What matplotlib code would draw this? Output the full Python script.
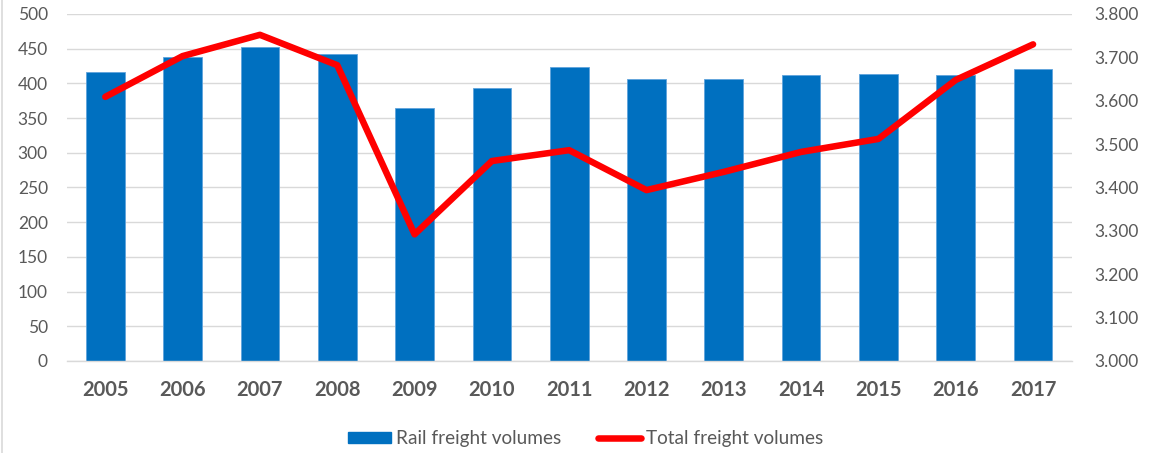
import matplotlib.pyplot as plt
from matplotlib.lines import Line2D

years = ["2005", "2006", "2007", "2008", "2009", "2010", "2011",
         "2012", "2013", "2014", "2015", "2016", "2017"]
rail_freight = [417, 438, 453, 443, 364, 394, 423, 407, 407, 412, 414, 412, 421]
total_freight = [3.609, 3.703, 3.752, 3.682, 3.292, 3.461, 3.486,
                 3.394, 3.436, 3.482, 3.512, 3.648, 3.730]
left_ticks = [0, 50, 100, 150, 200, 250, 300, 350, 400, 450, 500]
right_ticks = [3.0, 3.1, 3.2, 3.3, 3.4, 3.5, 3.6, 3.7, 3.8]

plt.rcParams['font.family'] = ['Lato', 'DejaVu Sans']
gray_txt = '#595959'
grid_col = '#D9D9D9'

fig = plt.figure(figsize=(11.57, 4.53), dpi=100)
ax = fig.add_axes([0.0576, 0.2031, 0.8687, 0.766])
x = list(range(len(years)))

ax.bar(x, rail_freight, width=0.5, color='#0070C0', edgecolor='#5FA3DC',
       linewidth=0.6, zorder=2, label='Rail freight volumes')
ax.set_ylim(0, 500)
ax.set_xlim(-0.5, len(years) - 0.5)
ax.set_yticks(left_ticks)
ax.yaxis.grid(True, color=grid_col, linewidth=1.0, zorder=0)
ax.set_axisbelow(True)
ax.set_xticks(x)
ax.set_xticklabels(years, fontsize=14.5, fontweight='bold', color=gray_txt)
ax.tick_params(axis='x', length=0, pad=14)
ax.tick_params(axis='y', length=0, pad=13.5, labelsize=12.5, labelcolor=gray_txt)
for s in ['top', 'right', 'left']:
    ax.spines[s].set_visible(False)
ax.spines['bottom'].set_color(grid_col)
ax.spines['bottom'].set_linewidth(1.0)

ax2 = ax.twinx()
ax2.plot(x, total_freight, color='#FF0000', linewidth=4.7,
         solid_capstyle='round', solid_joinstyle='round', zorder=3,
         label='Total freight volumes')
ax2.set_ylim(3.0, 3.8)
ax2.set_yticks(right_ticks)
ax2.set_yticklabels(['{:.3f}'.format(v) for v in right_ticks])
ax2.tick_params(axis='y', length=0, pad=16, labelsize=12.5, labelcolor=gray_txt)
for s in ax2.spines.values():
    s.set_visible(False)

handles = [plt.Rectangle((0, 0), 1, 1, color='#0070C0'),
           Line2D([0], [0], color='#FF0000', linewidth=4.7, solid_capstyle='round')]
fig.legend(handles, ['Rail freight volumes', 'Total freight volumes'],
           loc='center', bbox_to_anchor=(0.506, 0.031), ncol=2, frameon=False,
           fontsize=13.7, labelcolor=gray_txt, handlelength=2.3,
           handleheight=0.55, handletextpad=0.25, columnspacing=1.9)

# thin left border of the chart area
fig.add_artist(Line2D([0.0015, 0.0015], [0, 1], transform=fig.transFigure,
                      color='#D9D9D9', linewidth=1.2))

fig.savefig('out.png', dpi=100)
